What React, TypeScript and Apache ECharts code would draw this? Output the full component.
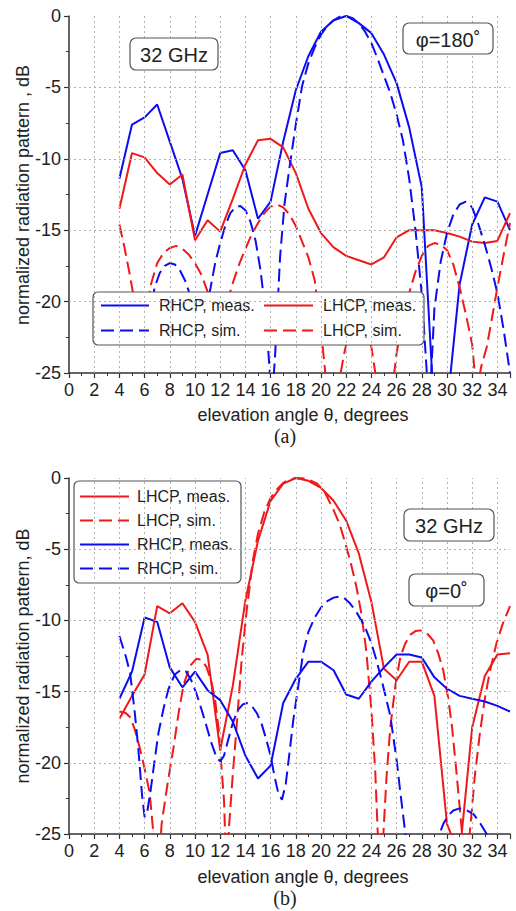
import React, { useEffect, useRef } from "react";
import * as echarts from "echarts";

// ---------- data ----------
const thetaMeas = [4, 5, 6, 7, 8, 9, 10, 11, 12, 13, 14, 15, 16, 17, 18, 19, 20, 21, 22, 23, 24, 25, 26, 27, 28, 29, 30, 31, 32, 33, 34, 35];

// (a) phi = 180
const rhcpMeasA = [-11.4, -7.6, -7.1, -6.2, -8.8, -11.4, -15.4, -12.5, -9.6, -9.4, -10.8, -14.2, -13.0, -8.8, -5.2, -2.8, -1.1, -0.3, 0, -0.5, -1.2, -2.7, -4.7, -7.8, -12.0, -28, -27.5, -18.8, -14.6, -12.7, -13.0, -15.0];
const lhcpMeasA = [-13.5, -9.6, -9.9, -11.0, -11.8, -11.1, -15.7, -14.3, -15.1, -12.8, -10.4, -8.7, -8.6, -9.2, -11.0, -13.5, -15.2, -16.2, -16.8, -17.1, -17.4, -16.9, -15.5, -15.0, -15.0, -15.0, -15.2, -15.45, -15.8, -15.9, -15.75, -13.8];
const rhcpSimA = [
  [6.0, -22.6], [6.4, -21.0], [6.8, -19.0], [7.2, -18.0], [7.6, -17.5], [8.0, -17.3], [8.4, -17.4], [8.8, -17.8], [9.2, -18.5], [9.6, -19.5], [10.0, -21.0], [10.4, -22.5], [10.8, -21.0], [11.2, -19.2], [11.6, -17.3], [12.0, -15.9], [12.4, -14.7], [12.8, -13.8], [13.2, -13.4], [13.6, -13.3], [14.0, -13.6], [14.4, -14.4], [14.8, -15.7], [15.2, -17.8], [15.6, -20.8], [15.9, -24.5], [16.1, -27], [16.35, -23.9], [16.75, -16.9], [17.1, -13.2], [17.5, -10.6], [18.0, -7.6], [18.5, -4.9], [19.0, -3.3], [19.5, -2.2], [20.0, -1.3], [20.5, -0.7], [21.0, -0.3], [21.5, -0.05], [22.0, 0], [22.5, -0.15], [23.0, -0.5], [23.5, -1.1], [24.0, -1.9], [24.5, -3.0], [25.0, -4.2], [25.5, -5.4], [26.0, -6.9], [26.5, -8.7], [27.0, -11.4], [27.5, -15.0], [28.0, -19.5], [28.4, -25], [28.6, -28], [28.8, -24], [29.0, -20.5], [29.5, -17.2], [30.0, -15.2], [30.5, -13.9], [31.0, -13.2], [31.5, -13.0], [32.0, -13.4], [32.5, -14.6], [33.0, -16.0], [33.5, -17.6], [34.0, -19.4], [34.5, -22.0], [35.0, -25.0]
];
const lhcpSimA = [
  [4.0, -14.6], [4.4, -16.2], [4.8, -18.0], [5.2, -20.0], [5.5, -21.8], [5.8, -22.6], [6.1, -21.0], [6.5, -18.8], [7.0, -17.3], [7.5, -16.6], [8.0, -16.25], [8.5, -16.1], [9.0, -16.3], [9.5, -16.7], [10.0, -17.3], [10.5, -18.1], [11.0, -19.3], [11.4, -21.0], [11.8, -22.5], [12.2, -21.2], [12.6, -19.9], [13.0, -18.7], [13.5, -17.4], [14.0, -16.3], [14.5, -15.3], [15.0, -14.5], [15.5, -13.8], [16.0, -13.35], [16.5, -13.2], [17.0, -13.4], [17.5, -13.9], [18.0, -14.7], [18.5, -15.8], [19.0, -16.9], [19.5, -18.5], [20.0, -22.0], [20.4, -25.5], [20.9, -32], [21.4, -25.8], [21.8, -23.8], [22.3, -21.8], [22.8, -20.9], [23.2, -21.0], [23.6, -21.9], [24.0, -23.2], [24.4, -25.5], [25.0, -32], [25.7, -25.8], [26.0, -23.6], [26.5, -21.2], [27.0, -19.4], [27.5, -17.9], [28.0, -16.8], [28.5, -16.1], [29.0, -15.9], [29.5, -16.0], [30.0, -16.4], [30.5, -17.4], [31.0, -19.0], [31.5, -20.9], [32.0, -23.0], [32.35, -26.5], [32.7, -24.6], [33.15, -23.2], [33.5, -21.5], [34.0, -19.0], [34.5, -16.7], [35.0, -14.5]
];

// (b) phi = 0
const lhcpMeasB = [-16.9, -15.3, -13.8, -9.0, -9.5, -8.8, -10.1, -12.4, -19.1, -14.6, -8.6, -4.4, -1.6, -0.4, 0, -0.2, -0.7, -1.6, -3.0, -5.3, -8.7, -13.4, -14.2, -12.9, -12.9, -15.3, -24.3, -26.5, -17.5, -13.9, -12.4, -12.3];
const rhcpMeasB = [-15.5, -13.6, -9.8, -10.1, -13.3, -14.7, -13.6, -14.9, -15.6, -17.1, -19.5, -21.1, -20.2, -15.8, -14.1, -12.9, -12.9, -13.5, -15.2, -15.5, -14.3, -13.3, -12.4, -12.4, -12.6, -14.0, -14.8, -15.3, -15.5, -15.7, -16.0, -16.4];
const lhcpSimB = [
  [4.0, -16.4], [4.5, -16.5], [4.85, -16.8], [5.2, -17.6], [5.6, -18.9], [6.0, -20.4], [6.4, -22.1], [6.7, -25], [7.0, -29], [7.35, -24.3], [7.8, -21.6], [8.3, -18.9], [8.7, -16.5], [9.1, -14.5], [9.6, -13.2], [10.1, -12.7], [10.5, -12.75], [10.9, -13.25], [11.3, -14.3], [11.6, -15.6], [11.9, -17.8], [12.1, -20.3], [12.3, -22.6], [12.5, -28], [12.7, -24.5], [13.0, -20.8], [13.3, -17.5], [13.7, -12.8], [14.1, -9.3], [14.6, -5.76], [15.0, -3.9], [15.5, -2.4], [16.0, -1.4], [16.5, -0.8], [17.0, -0.35], [17.5, -0.1], [18.0, 0], [18.5, -0.02], [19.0, -0.1], [19.7, -0.4], [20.3, -1.0], [21.0, -2.25], [21.5, -3.3], [22.0, -4.8], [22.4, -6.1], [22.8, -7.6], [23.2, -9.5], [23.6, -12.2], [24.0, -16.3], [24.3, -20.5], [24.6, -27], [24.95, -25], [25.2, -21.0], [25.5, -17.5], [25.9, -14.6], [26.3, -12.55], [26.7, -11.6], [27.1, -11.0], [27.5, -10.75], [27.9, -10.7], [28.4, -10.9], [28.9, -11.4], [29.3, -12.3], [29.7, -13.5], [30.1, -15.5], [30.4, -17.5], [30.7, -20.2], [30.9, -22.1], [31.2, -25], [31.5, -28], [31.8, -25], [32.2, -21.0], [32.6, -18.0], [33.0, -15.5], [33.4, -13.6], [33.9, -11.7], [34.4, -10.3], [35.0, -9.0]
];
const rhcpSimB = [
  [4.0, -11.1], [4.5, -12.5], [4.85, -13.7], [5.2, -16.3], [5.5, -19.0], [5.8, -22.3], [6.0, -23.8], [6.2, -23.5], [6.5, -21.8], [6.8, -19.8], [7.1, -17.9], [7.5, -16.2], [7.9, -14.8], [8.4, -13.8], [8.9, -13.45], [9.3, -13.6], [9.7, -14.2], [10.1, -15.1], [10.5, -16.2], [10.9, -17.4], [11.3, -18.6], [11.7, -19.6], [12.0, -19.9], [12.3, -19.5], [12.6, -18.5], [13.0, -17.2], [13.4, -16.3], [13.8, -15.9], [14.1, -15.8], [14.5, -16.0], [14.9, -16.5], [15.3, -17.3], [15.7, -18.5], [16.0, -19.5], [16.3, -20.9], [16.6, -22.1], [16.9, -22.6], [17.2, -21.5], [17.5, -19.3], [17.8, -17.0], [18.2, -14.6], [18.6, -12.2], [19.0, -10.8], [19.5, -9.8], [20.0, -9.1], [20.5, -8.65], [21.0, -8.4], [21.4, -8.33], [21.8, -8.4], [22.3, -8.8], [22.8, -9.4], [23.2, -10.0], [23.6, -10.7], [24.0, -11.6], [24.4, -12.8], [24.9, -14.5], [25.5, -16.7], [26.0, -19.8], [26.3, -22.1], [26.7, -25], [27.2, -30], [28.5, -32], [29.4, -25], [29.7, -24.3], [30.1, -23.7], [30.5, -23.35], [31.0, -23.2], [31.5, -23.3], [32.1, -23.6], [32.6, -24.2], [33.15, -25], [33.6, -28], [34.5, -33], [35.0, -35]
];

const gridXLines = [2, 4, 6, 8, 10, 12, 14, 16, 18, 20, 22, 24, 26, 28, 30, 32, 34];
const gridYLines = [-5, -10, -15, -20];

const SANS = "'Liberation Sans', Arial, sans-serif";
const SERIF = "'Liberation Serif', 'Times New Roman', serif";
const BLUE = "#0c0cf2";
const RED = "#f01818";
const DASH = [13, 6];

function pairs(xs: number[], ys: number[]) {
  return xs.map((x, i) => [x, ys[i]]);
}

function lineSeries(name: string, data: number[][], color: string, dashed: boolean, idx: number) {
  return {
    name,
    type: "line",
    xAxisIndex: idx,
    yAxisIndex: idx,
    data,
    symbol: "none",
    clip: true,
    z: 3,
    lineStyle: { color, width: 2, type: dashed ? DASH : "solid" },
    itemStyle: { color },
  };
}

function gridSeries(idx: number) {
  return {
    name: "grid" + idx,
    type: "line",
    xAxisIndex: idx,
    yAxisIndex: idx,
    data: [],
    silent: true,
    z: 1,
    markLine: {
      silent: true,
      symbol: ["none", "none"],
      animation: false,
      label: { show: false },
      lineStyle: { type: [2, 3], color: "#b0b0b0", width: 1 },
      data: [
        ...gridXLines.map((x) => ({ xAxis: x })),
        ...gridYLines.map((y) => ({ yAxis: y })),
      ],
    },
  };
}

function xAxisOpt(idx: number) {
  return {
    gridIndex: idx,
    type: "value",
    min: 0,
    max: 35,
    interval: 2,
    axisLine: { show: true, onZero: false, lineStyle: { color: "#333", width: 1.5 } },
    axisTick: { show: true, length: 5, lineStyle: { color: "#333", width: 1.2 } },
    minorTick: { show: true, splitNumber: 2, length: 3, lineStyle: { color: "#333", width: 1 } },
    splitLine: { show: false },
    axisLabel: {
      fontSize: 18,
      fontFamily: SANS,
      color: "#222",
      margin: 8,
      showMaxLabel: false,
      formatter: (v: number) => (v > 34 ? "" : String(v)),
    },
  };
}

function yAxisOpt(idx: number) {
  return {
    gridIndex: idx,
    type: "value",
    min: -25,
    max: 0,
    interval: 5,
    axisLine: { show: true, onZero: false, lineStyle: { color: "#333", width: 1.5 } },
    axisTick: { show: true, length: 5, lineStyle: { color: "#333", width: 1.2 } },
    minorTick: { show: true, splitNumber: 2, length: 3, lineStyle: { color: "#333", width: 1 } },
    splitLine: { show: false },
    axisLabel: { fontSize: 18, fontFamily: SANS, color: "#222", margin: 8 },
  };
}

function textEl(text: string, x: number, y: number, size: number, family: string, rotation = 0) {
  return {
    type: "text",
    x,
    y,
    rotation,
    z: 10,
    style: {
      text,
      x: 0,
      y: 0,
      fontSize: size,
      fontFamily: family,
      fill: "#222",
      align: "center",
      verticalAlign: "middle",
      textAlign: "center",
      textVerticalAlign: "middle",
    },
  };
}

function boxEl(text: string, x: number, y: number, w: number, h: number) {
  return {
    type: "group",
    z: 10,
    children: [
      {
        type: "rect",
        z: 10,
        shape: { x, y, width: w, height: h, r: 6 },
        style: { fill: "#fff", stroke: "#555", lineWidth: 1.2 },
      },
      textEl(text, x + w / 2, y + h / 2 + 1, 20, SANS),
    ],
  };
}

function legendRect(x: number, y: number, w: number, h: number) {
  return {
    type: "rect",
    z: 3.5,
    shape: { x, y, width: w, height: h, r: 5 },
    style: { fill: "#fff", stroke: "#555", lineWidth: 1.2 },
  };
}

function legendOpt(names: string[], left: number, top: number, itemWidth: number, gap: number, pad: number) {
  return {
    data: names,
    orient: "vertical",
    left,
    top,
    padding: 0,
    itemWidth,
    itemHeight: 14,
    itemGap: gap,
    selectedMode: false,
    z: 4,
    itemStyle: { opacity: 0, color: "rgba(0,0,0,0)", borderWidth: 0 },
    textStyle: { fontSize: 16, lineHeight: 18, fontFamily: SANS, color: "#222", padding: [0, 0, 0, pad] },
  };
}

export default function App() {
  const ref = useRef<HTMLDivElement>(null);

  useEffect(() => {
    if (!ref.current) return;
    const chart = echarts.init(ref.current, null, { renderer: "svg" });
    const option = {
      animation: false,
      backgroundColor: "#fff",
      grid: [
        { left: 69, top: 16, width: 441, height: 357 },
        { left: 69, top: 478, width: 441, height: 356 },
      ],
      xAxis: [xAxisOpt(0), xAxisOpt(1)],
      yAxis: [yAxisOpt(0), yAxisOpt(1)],
      legend: [
        legendOpt(["RHCP, meas.", "RHCP, sim."], 100, 296.5, 48, 7, 5),
        legendOpt(["LHCP, meas.", "LHCP, sim."], 263, 296.5, 49, 7, 5),
        legendOpt(["LHCP, meas.", "LHCP, sim.", "RHCP, meas.", "RHCP, sim."], 79, 487.5, 49, 6, 3),
      ],
      series: [
        gridSeries(0),
        gridSeries(1),
        lineSeries("RHCP, meas.", pairs(thetaMeas, rhcpMeasA), BLUE, false, 0),
        lineSeries("LHCP, meas.", pairs(thetaMeas, lhcpMeasA), RED, false, 0),
        lineSeries("RHCP, sim.", rhcpSimA, BLUE, true, 0),
        lineSeries("LHCP, sim.", lhcpSimA, RED, true, 0),
        lineSeries("LHCP, meas.", pairs(thetaMeas, lhcpMeasB), RED, false, 1),
        lineSeries("LHCP, sim.", lhcpSimB, RED, true, 1),
        lineSeries("RHCP, meas.", pairs(thetaMeas, rhcpMeasB), BLUE, false, 1),
        lineSeries("RHCP, sim.", rhcpSimB, BLUE, true, 1),
      ],
      graphic: [
        legendRect(93, 292, 331, 53),
        legendRect(74, 481, 167, 102),
        boxEl("32 GHz", 130, 38, 88, 32),
        boxEl("φ=180˚", 403, 23, 90, 31),
        boxEl("32 GHz", 404, 509, 90, 32),
        boxEl("φ=0˚", 409, 574, 75, 32),
        textEl("normalized radiation pattern , dB", 23, 195, 18, SANS, Math.PI / 2),
        textEl("normalized radiation pattern, dB", 23, 656, 18, SANS, Math.PI / 2),
        textEl("elevation angle θ, degrees", 303, 415, 18, SANS),
        textEl("elevation angle θ, degrees", 303, 877, 18, SANS),
        textEl("(a)", 285, 436, 20, SERIF),
        textEl("(b)", 285, 898, 20, SERIF),
      ],
    };
    chart.setOption(option as any);
    return () => chart.dispose();
  }, []);

  return (
    <div
      ref={ref}
      style={{ position: "absolute", left: 0, top: 0, width: 516, height: 911 }}
    />
  );
}
